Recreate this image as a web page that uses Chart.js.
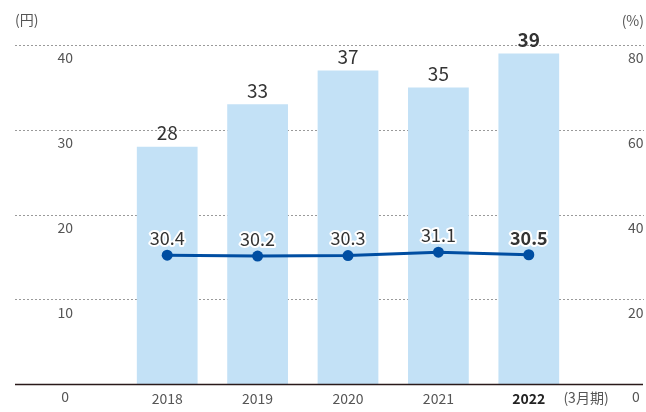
<!DOCTYPE html>
<html>
<head>
<meta charset="utf-8">
<script src="https://cdn.jsdelivr.net/npm/chart.js@4"></script>
<style>
  body { margin: 0; background: #fff; }
  #wrap { width: 646px; height: 412px; }
</style>
</head>
<body>
<div id="wrap"><canvas id="divChart"></canvas></div>
<script>
const years = ['2018', '2019', '2020', '2021', '2022'];
const dividends = [28, 33, 37, 35, 39];          // 円
const payoutRatio = [30.4, 30.2, 30.3, 31.1, 30.5]; // %
const yenTicks = [0, 10, 20, 30, 40];
const pctTicks = [0, 20, 40, 60, 80];

const FONT = '"Noto Sans CJK JP", "Noto Sans", sans-serif';
const lastIdx = years.length - 1;

// gridlines, axis line, value labels, unit captions
const decor = {
  id: 'decor',
  beforeDatasetsDraw(chart) {
    const { ctx, scales } = chart;
    ctx.save();
    ctx.strokeStyle = '#9a9a9a';
    ctx.lineWidth = 1;
    ctx.setLineDash([2, 2]);
    yenTicks.slice(1).forEach(v => {
      const y = Math.round(scales.yL.getPixelForValue(v)) + 0.5;
      ctx.beginPath();
      ctx.moveTo(15, y);
      ctx.lineTo(644, y);
      ctx.stroke();
    });
    ctx.restore();
  },
  afterDatasetsDraw(chart) {
    const { ctx, scales } = chart;
    ctx.save();
    // base line
    const y0 = Math.round(scales.yL.getPixelForValue(0)) + 0.5;
    ctx.strokeStyle = '#2a1a1a';
    ctx.lineWidth = 1.3;
    ctx.beginPath();
    ctx.moveTo(15, y0);
    ctx.lineTo(643, y0);
    ctx.stroke();

    // bar labels
    ctx.textAlign = 'center';
    ctx.textBaseline = 'bottom';
    chart.getDatasetMeta(0).data.forEach((bar, i) => {
      ctx.font = (i === lastIdx ? 'bold ' : '') + '19px ' + FONT;
      ctx.fillStyle = '#333';
      ctx.fillText(String(dividends[i]), bar.x, bar.y - 4);
    });

    // line labels with white halo
    ctx.lineJoin = 'round';
    chart.getDatasetMeta(1).data.forEach((pt, i) => {
      ctx.font = (i === lastIdx ? 'bold ' : '') + '18px ' + FONT;
      const txt = payoutRatio[i].toFixed(1);
      ctx.strokeStyle = '#fff';
      ctx.lineWidth = 4;
      ctx.strokeText(txt, pt.x, pt.y - 8);
      ctx.fillStyle = '#333';
      ctx.fillText(txt, pt.x, pt.y - 8);
    });

    // unit captions
    ctx.font = '14px ' + FONT;
    ctx.fillStyle = '#555';
    ctx.textBaseline = 'middle';
    ctx.textAlign = 'left';
    ctx.fillText('(円)', 15, 20);
    ctx.textAlign = 'right';
    ctx.fillText('(%)', 644, 21);
    ctx.textAlign = 'center';
    ctx.fillText('(3月期)', 586, 398);
    ctx.restore();
  }
};

const noPad = s => { s.paddingTop = 0; s.paddingBottom = 0; s.paddingLeft = 0; s.paddingRight = 0; };

new Chart(document.getElementById('divChart'), {
  data: {
    labels: years,
    datasets: [{
      type: 'bar',
      label: '1株当たり配当金',
      data: dividends,
      yAxisID: 'yL',
      backgroundColor: '#c3e1f6',
      categoryPercentage: 0.8,
      barPercentage: 0.84,
      order: 2
    }, {
      type: 'line',
      label: '配当性向',
      data: payoutRatio,
      yAxisID: 'yR',
      borderColor: '#004ea2',
      backgroundColor: '#004ea2',
      borderWidth: 3,
      pointRadius: 5.5,
      pointBackgroundColor: '#004ea2',
      pointBorderWidth: 0,
      tension: 0,
      order: 1
    }]
  },
  options: {
    responsive: true,
    maintainAspectRatio: false,
    animation: false,
    layout: { padding: { top: 45, left: 0, right: 0, bottom: 0 } },
    plugins: {
      legend: { display: false },
      tooltip: { enabled: false }
    },
    scales: {
      x: {
        grid: { display: false, drawTicks: false },
        border: { display: false },
        afterFit(s) { s.height = 28; noPad(s); },
        ticks: {
          padding: 6,
          font: ctx => ({ family: FONT, size: 14, weight: ctx.index === lastIdx ? 'bold' : 'normal' }),
          color: ctx => ctx.index === lastIdx ? '#222' : '#555'
        }
      },
      yL: {
        position: 'left',
        min: 0, max: 40,
        grid: { display: false, drawTicks: false },
        border: { display: false },
        afterFit(s) { s.width = 122; noPad(s); },
        afterBuildTicks(s) { s.ticks = yenTicks.map(v => ({ value: v })); },
        ticks: {
          crossAlign: 'center',
          padding: 49,
          labelOffset: 13,
          color: '#555',
          font: { family: FONT, size: 14 }
        }
      },
      yR: {
        position: 'right',
        min: 0, max: 80,
        grid: { display: false, drawTicks: false },
        border: { display: false },
        afterFit(s) { s.width = 72; noPad(s); },
        afterBuildTicks(s) { s.ticks = pctTicks.map(v => ({ value: v })); },
        ticks: {
          crossAlign: 'center',
          padding: 54,
          labelOffset: 13,
          color: '#555',
          font: { family: FONT, size: 14 }
        }
      }
    }
  },
  plugins: [decor]
});
</script>
</body>
</html>
